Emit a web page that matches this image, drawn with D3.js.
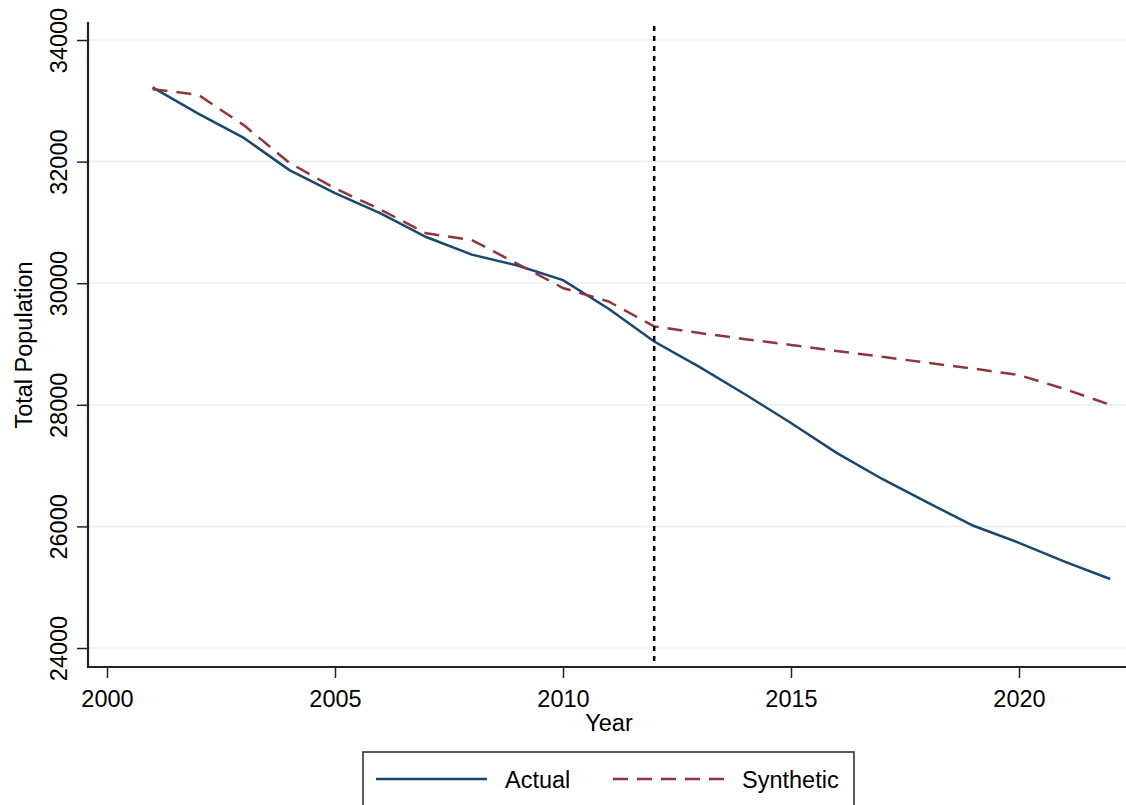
<!DOCTYPE html>
<html>
<head>
<meta charset="utf-8">
<script src="https://cdn.jsdelivr.net/npm/d3@7"></script>
<style>
  body { margin: 0; background: #fff; }
  svg { display: block; font-family: "Liberation Sans", Arial, sans-serif; }
</style>
</head>
<body>
<div id="chart"></div>
<script>
// data
var years = [2001, 2002, 2003, 2004, 2005, 2006, 2007, 2008, 2009, 2010, 2011,
             2012, 2013, 2014, 2015, 2016, 2017, 2018, 2019, 2020, 2021, 2022];
var actual = [33220, 32790, 32390, 31860, 31480, 31150, 30760, 30470, 30290, 30050, 29580,
              29040, 28620, 28170, 27700, 27210, 26780, 26390, 26010, 25730, 25420, 25135];
var synthetic = [33190, 33100, 32600, 31980, 31560, 31210, 30820, 30710, 30320, 29920, 29700,
                 29290, 29180, 29080, 28985, 28885, 28790, 28690, 28595, 28490, 28260, 28000];
var yTicks = [24000, 26000, 28000, 30000, 32000, 34000];
var xTicks = [2000, 2005, 2010, 2015, 2020];
var treatYear = 2012;
var seriesNames = ["Actual", "Synthetic"];

var W = 1126, H = 805;
var margin = {top: 22, right: 0, bottom: 138, left: 88};
var fs = 23.5;

var svg = d3.select("#chart").append("svg")
    .attr("width", W)
    .attr("height", H);

//////// SCALES ////////
var x = d3.scaleLinear().domain([2000, 2020]).range([107, 1019]);
var y = d3.scaleLinear().domain([24000, 34000]).range([648, 40]);

var axisY = 667;

// gridlines
svg.append("g")
  .selectAll("line")
  .data(yTicks)
  .enter().append("line")
    .attr("x1", margin.left + 1)
    .attr("x2", W)
    .attr("y1", function(d) { return y(d); })
    .attr("y2", function(d) { return y(d); })
    .attr("stroke", "#eaf2f3")
    .attr("stroke-width", 2);

// lines
var line = d3.line()
    .x(function(d) { return x(d[0]); })
    .y(function(d) { return y(d[1]); });

svg.append("path")
    .datum(years.map(function(yr, i) { return [yr, actual[i]]; }))
    .attr("d", line)
    .attr("fill", "none")
    .attr("stroke", "#1a476f")
    .attr("stroke-width", 2.5);

svg.append("path")
    .datum(years.map(function(yr, i) { return [yr, synthetic[i]]; }))
    .attr("d", line)
    .attr("fill", "none")
    .attr("stroke", "#90353b")
    .attr("stroke-width", 2.5)
    .attr("stroke-dasharray", "15,9");

// treatment line
svg.append("line")
    .attr("x1", x(treatYear))
    .attr("x2", x(treatYear))
    .attr("y1", 26)
    .attr("y2", axisY)
    .attr("stroke", "#000")
    .attr("stroke-width", 2.5)
    .attr("stroke-dasharray", "5,5");

//////// AXES ////////
var yAxis = svg.append("g")
    .attr("transform", "translate(" + margin.left + ",0)")
    .call(d3.axisLeft(y).tickValues(yTicks).tickSize(11).tickPadding(0).tickFormat(d3.format("d")));
yAxis.select(".domain").remove();
yAxis.selectAll(".tick line").attr("stroke", "#222").attr("stroke-width", 1.5);
yAxis.selectAll(".tick text")
    .attr("x", null).attr("dy", null)
    .attr("transform", "translate(-21,0) rotate(-90)")
    .attr("text-anchor", "middle")
    .attr("font-size", fs)
    .attr("fill", "#000");

var xAxis = svg.append("g")
    .attr("transform", "translate(0," + axisY + ")")
    .call(d3.axisBottom(x).tickValues(xTicks).tickSize(11).tickPadding(0).tickFormat(d3.format("d")));
xAxis.select(".domain").remove();
xAxis.selectAll(".tick line").attr("stroke", "#222").attr("stroke-width", 1.5);
xAxis.selectAll(".tick text")
    .attr("y", 40).attr("dy", null)
    .attr("font-size", fs)
    .attr("fill", "#000");

// axis lines
svg.append("line")
    .attr("x1", margin.left).attr("x2", margin.left)
    .attr("y1", margin.top).attr("y2", axisY + 1)
    .attr("stroke", "#222").attr("stroke-width", 2.2);
svg.append("line")
    .attr("x1", margin.left - 1).attr("x2", W)
    .attr("y1", axisY).attr("y2", axisY)
    .attr("stroke", "#222").attr("stroke-width", 2.2);

// titles
svg.append("text")
    .attr("x", 609).attr("y", 731)
    .attr("text-anchor", "middle")
    .attr("font-size", fs)
    .text("Year");

svg.append("text")
    .attr("transform", "translate(32,345) rotate(-90)")
    .attr("text-anchor", "middle")
    .attr("font-size", fs)
    .text("Total Population");

//////// LEGEND ////////
var legend = svg.append("g");
legend.append("rect")
    .attr("x", 363).attr("y", 752)
    .attr("width", 491).attr("height", 70)
    .attr("fill", "#fff")
    .attr("stroke", "#333")
    .attr("stroke-width", 1.6);

var legendItems = [
  {name: seriesNames[0], color: "#1a476f", dash: null, x0: 376},
  {name: seriesNames[1], color: "#90353b", dash: "15,9", x0: 613}
];
var li = legend.selectAll("g.item")
    .data(legendItems)
    .enter().append("g").attr("class", "item");
li.append("line")
    .attr("x1", function(d) { return d.x0; })
    .attr("x2", function(d) { return d.x0 + 111; })
    .attr("y1", 779).attr("y2", 779)
    .attr("stroke", function(d) { return d.color; })
    .attr("stroke-width", 2.5)
    .attr("stroke-dasharray", function(d) { return d.dash; });
li.append("text")
    .attr("x", function(d) { return d.x0 + 129; })
    .attr("y", 788)
    .attr("font-size", fs)
    .text(function(d) { return d.name; });
</script>
</body>
</html>
